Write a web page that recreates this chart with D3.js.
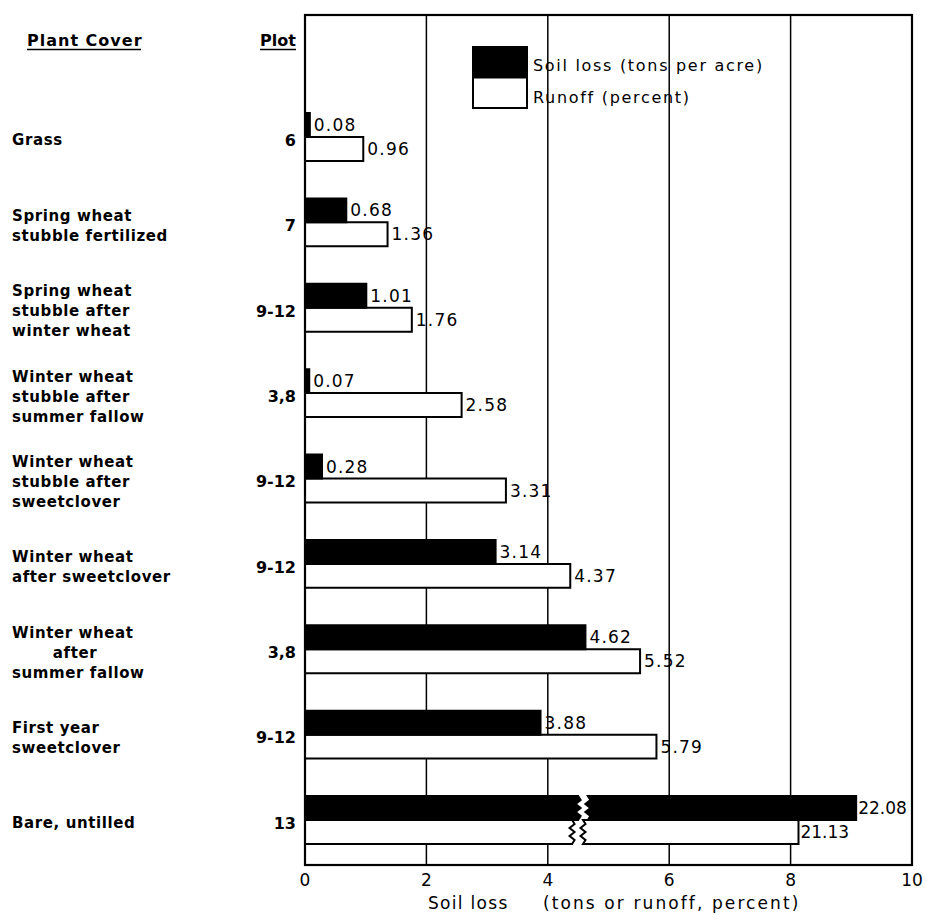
<!DOCTYPE html>
<html>
<head>
<meta charset="utf-8">
<script src="https://cdn.jsdelivr.net/npm/d3@7"></script>
<style>
  body { margin: 0; background: #fff; }
  svg { font-family: "DejaVu Sans", sans-serif; }
</style>
</head>
<body>
<div id="chart"></div>
<script>
// data
var covers = [
  ["Grass"],
  ["Spring wheat", "stubble fertilized"],
  ["Spring wheat", "stubble after", "winter wheat"],
  ["Winter wheat", "stubble after", "summer fallow"],
  ["Winter wheat", "stubble after", "sweetclover"],
  ["Winter wheat", "after sweetclover"],
  ["Winter wheat", "after", "summer fallow"],
  ["First year", "sweetclover"],
  ["Bare, untilled"]
];
var plots = ["6", "7", "9-12", "3,8", "9-12", "9-12", "3,8", "9-12", "13"];
var soilLoss = [0.08, 0.68, 1.01, 0.07, 0.28, 3.14, 4.62, 3.88, 22.08];
var runoff = [0.96, 1.36, 1.76, 2.58, 3.31, 4.37, 5.52, 5.79, 21.13];
var xTicks = [0, 2, 4, 6, 8, 10];
var seriesNames = ["Soil loss (tons per acre)", "Runoff (percent)"];

// broken bar: values above axis max are drawn shifted back by this amount
var breakShift = 13;
var breakAt = {soil: [4.5, 4.66], runoff: [4.4, 4.58]};

var width = 925, height = 915;
var svg = d3.select("#chart").append("svg")
    .attr("width", width)
    .attr("height", height);

var x = d3.scaleLinear().domain([0, 10]).range([305, 912]);
var y = d3.scaleBand()
    .domain(d3.range(covers.length))
    .range([113, 844])
    .paddingInner(0.438)
    .paddingOuter(0);
var ySub = d3.scaleBand().domain(["soil", "runoff"]).range([0, y.bandwidth()]);

var frameTop = 15, frameBottom = 865;

// grid lines
svg.selectAll(".grid")
    .data(xTicks.filter(function(d) { return d > 0 && d < 10; }))
    .enter().append("line")
    .attr("x1", function(d) { return x(d); })
    .attr("x2", function(d) { return x(d); })
    .attr("y1", frameTop).attr("y2", frameBottom)
    .attr("stroke", "#000").attr("stroke-width", 1.5);

// rows
var rows = covers.map(function(c, i) {
  return {i: i, cover: c, plot: plots[i], soil: soilLoss[i], runoff: runoff[i]};
});

function zig(xp, y0, y1, n, amp) {
  var pts = [], step = (y1 - y0) / n;
  for (var k = 0; k <= n; k++) pts.push([xp + (k % 2 ? amp : -amp) * (k > 0 && k < n ? 1 : 0), y0 + k * step]);
  return pts;
}

function barPath(v, key, y0, h) {
  var x0 = x(0);
  if (v <= 10) {
    return "M" + x0 + "," + y0 + "H" + x(v) + "V" + (y0 + h) + "H" + x0 + "Z";
  }
  var b = breakAt[key];
  var xa = x(b[0]), xb = x(b[1]), xe = x(v - breakShift);
  var left = zig(xa, y0, y0 + h, 6, 2.5);
  var right = zig(xb, y0, y0 + h, 6, 2.5).reverse();
  var p = "M" + x0 + "," + y0 + "H" + xa;
  left.forEach(function(q) { p += "L" + q[0] + "," + q[1]; });
  p += "H" + x0 + "Z";
  p += "M" + xb + "," + y0 + "H" + xe + "V" + (y0 + h) + "H" + xb;
  right.forEach(function(q) { p += "L" + q[0] + "," + q[1]; });
  p += "Z";
  return p;
}

function shownEnd(v) { return v > 10 ? v - breakShift : v; }

var g = svg.selectAll(".row").data(rows).enter().append("g")
    .attr("transform", function(d) { return "translate(0," + y(d.i) + ")"; });

["runoff", "soil"].forEach(function(key) {
  g.append("path")
      .attr("d", function(d) { return barPath(d[key], key, ySub(key), ySub.bandwidth()); })
      .attr("fill", key === "soil" ? "#000" : "#fff")
      .attr("stroke", "#000")
      .attr("stroke-width", 2);
  g.append("text")
      .attr("x", function(d) { return x(shownEnd(d[key])) + (d[key] > 10 ? 2 : 4); })
      .attr("y", ySub(key) + ySub.bandwidth() / 2)
      .attr("dy", "0.36em")
      .attr("font-size", 17)
      .attr("letter-spacing", function(d) { return d[key] > 10 ? 0 : 1.2; })
      .text(function(d) { return d3.format(".2f")(d[key]); });
});

// plot numbers
g.append("text")
    .attr("x", 296)
    .attr("y", y.bandwidth() / 2 + 3)
    .attr("dy", "0.36em")
    .attr("text-anchor", "end")
    .attr("font-size", 16)
    .attr("font-weight", "bold")
    .text(function(d) { return d.plot; });

// cover labels
g.each(function(d) {
  var n = d.cover.length, lh = 20;
  var cy = y.bandwidth() / 2 + 3;
  d3.select(this).selectAll(".cov").data(d.cover).enter().append("text")
      .attr("x", function(t, k) { return (d.i === 6 && k === 1) ? 75 : 12; })
      .attr("text-anchor", function(t, k) { return (d.i === 6 && k === 1) ? "middle" : "start"; })
      .attr("y", function(t, k) { return cy + (k - (n - 1) / 2) * lh; })
      .attr("dy", "0.36em")
      .attr("font-size", 15)
      .attr("font-weight", "bold")
      .attr("letter-spacing", 0.6)
      .text(function(t) { return t; });
});

// frame
svg.append("rect")
    .attr("x", x(0)).attr("y", frameTop)
    .attr("width", x(10) - x(0)).attr("height", frameBottom - frameTop)
    .attr("fill", "none").attr("stroke", "#000").attr("stroke-width", 2.2);

// x tick labels
svg.selectAll(".tick").data(xTicks).enter().append("text")
    .attr("x", function(d) { return x(d); })
    .attr("y", 880).attr("dy", "0.36em")
    .attr("text-anchor", "middle")
    .attr("font-size", 17)
    .text(function(d) { return d; });

svg.append("text").attr("x", 428).attr("y", 903).attr("dy", "0.36em")
    .attr("font-size", 17).attr("letter-spacing", 1.3).text("Soil loss");
svg.append("text").attr("x", 543).attr("y", 903).attr("dy", "0.36em")
    .attr("font-size", 17).attr("letter-spacing", 2.1).text("(tons or runoff, percent)");

// column headers
[["Plant Cover", 27, 141, 1], ["Plot", 260, 296, 0]].forEach(function(h) {
  svg.append("text").attr("x", h[1]).attr("y", 46)
      .attr("font-size", 16).attr("font-weight", "bold")
      .attr("letter-spacing", h[3]).text(h[0]);
  svg.append("line").attr("x1", h[1]).attr("x2", h[2])
      .attr("y1", 49.5).attr("y2", 49.5).attr("stroke", "#000").attr("stroke-width", 1.5);
});

// legend
var leg = svg.append("g").attr("transform", "translate(473,47)");
seriesNames.forEach(function(s, k) {
  leg.append("rect").attr("x", 0).attr("y", k * 30.5)
      .attr("width", 54).attr("height", 30.5)
      .attr("fill", k === 0 ? "#000" : "#fff")
      .attr("stroke", "#000").attr("stroke-width", 2);
  leg.append("text").attr("x", 60).attr("y", k * 32 + 18).attr("dy", "0.36em")
      .attr("font-size", 16).attr("letter-spacing", 1.7).text(s);
});
</script>
</body>
</html>
